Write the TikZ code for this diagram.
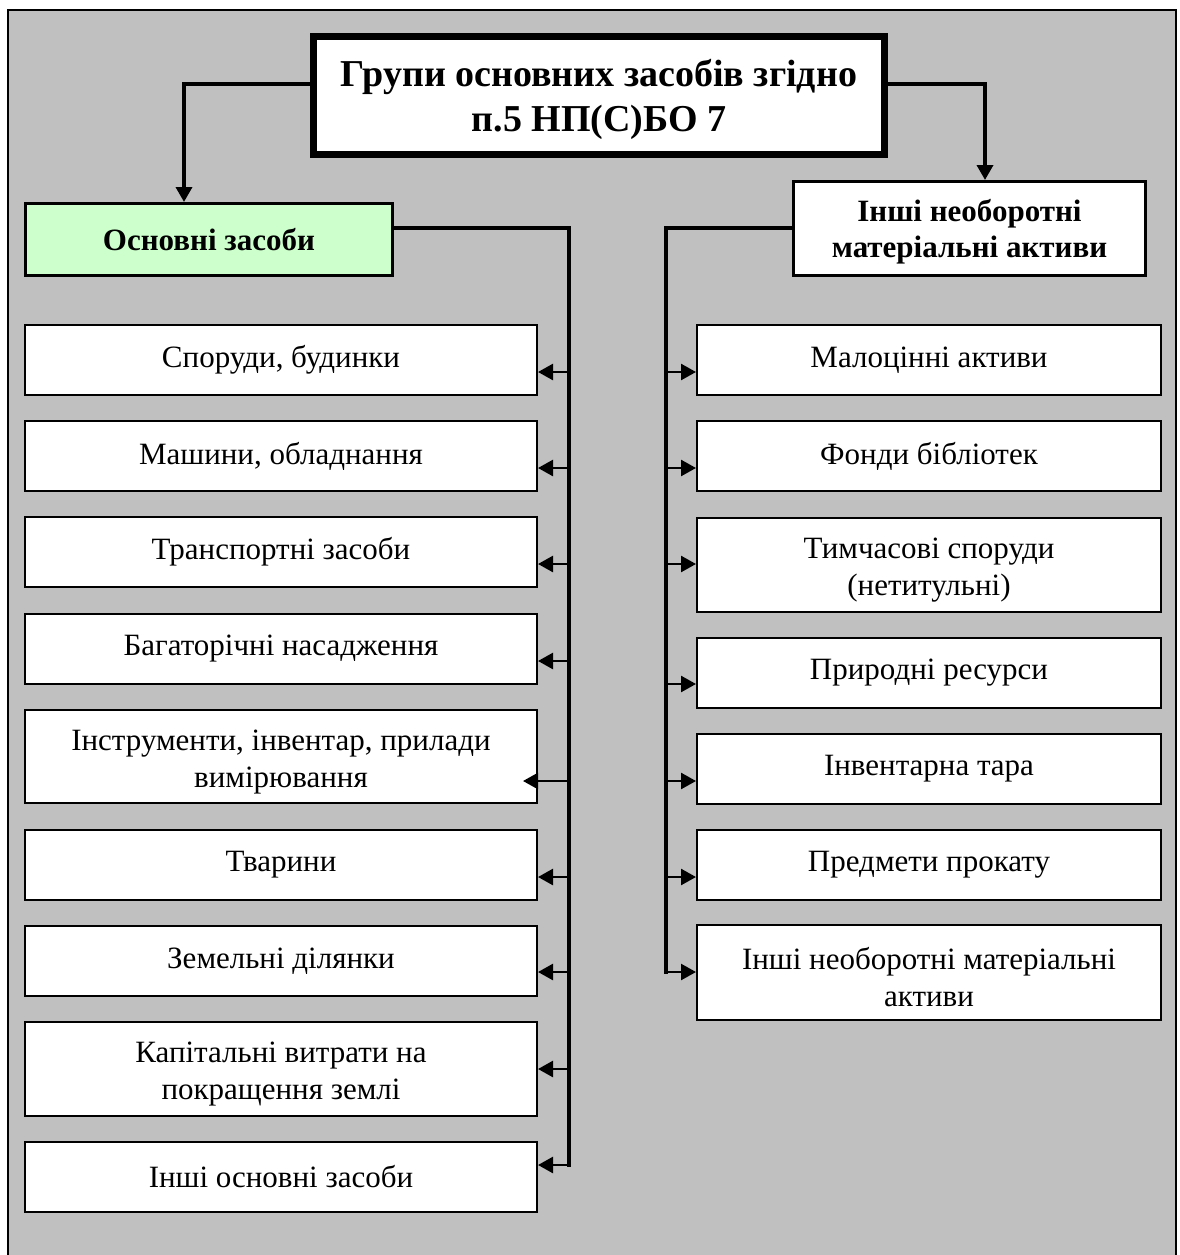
\documentclass[tikz,border=0pt]{standalone}
\usepackage{fontspec}
\setmainfont{Liberation Serif}
\usetikzlibrary{arrows.meta}
\definecolor{bg}{HTML}{C0C0C0}
\definecolor{lgreen}{HTML}{CCFFCC}
\newcommand\mystrut[1]{\rule{0pt}{#1}}
\begin{document}
\begin{tikzpicture}[x=1pt,y=-1pt,
  box/.style={draw,fill=white,line width=2pt,inner sep=0pt,align=center,font=\fontsize{31}{37}\selectfont},
  lbox/.style={box,minimum width=512pt,minimum height=70pt},
  rbox/.style={box,minimum width=464pt,minimum height=70pt},
  head/.style={draw,line width=3pt,inner sep=0pt,align=center,font=\bfseries\fontsize{31}{36}\selectfont},
  trunk/.style={line width=3.5pt,line cap=rect},
  tipA/.style={-{Triangle[length=15pt,width=16pt]}},
  stub/.style={line width=2.5pt,tipA},
  dn/.style={line width=3.5pt,tipA}]
\clip (0,0) rectangle (1179,1255);
\fill[white] (0,0) rectangle (1179,1255);
\draw[fill=bg,line width=2pt] (8,10) rectangle (1176,1280);

% title
\node[draw,fill=white,line width=7pt,minimum width=571pt,minimum height=118pt,inner sep=0pt,align=center,
  font=\bfseries\fontsize{38}{45}\selectfont] (title) at (599,95.5) {\mystrut{36pt}Групи основних засобів згідно\\п.5 НП(С)БО 7};

% headers
\node[head,fill=lgreen,minimum width=367pt,minimum height=72pt] (os) at (209,239.5) {Основні засоби};
\node[head,fill=white,minimum width=352pt,minimum height=94pt] (in) at (969.5,228.5) {\mystrut{28pt}Інші необоротні\\матеріальні активи};

% left boxes
\node[lbox] (l1) at (281,360) {Споруди, будинки};
\node[lbox] (l2) at (281,456) {Машини, обладнання};
\node[lbox] (l3) at (281,552) {Транспортні засоби};
\node[lbox] (l4) at (281,648.5) {Багаторічні насадження};
\node[lbox,minimum height=93pt] (l5) at (281,756.5) {\mystrut{31pt}Інструменти, інвентар, прилади\\вимірювання};
\node[lbox] (l6) at (281,864.5) {Тварини};
\node[lbox] (l7) at (281,961) {Земельні ділянки};
\node[lbox,minimum height=94pt] (l8) at (281,1069) {\mystrut{31pt}Капітальні витрати на\\покращення землі};
\node[lbox] (l9) at (281,1177) {Інші основні засоби};

% right boxes
\node[rbox] (r1) at (929,360) {Малоцінні активи};
\node[rbox] (r2) at (929,456) {Фонди бібліотек};
\node[rbox,minimum height=94pt] (r3) at (929,565) {\mystrut{31pt}Тимчасові споруди\\(нетитульні)};
\node[rbox] (r4) at (929,672.5) {Природні ресурси};
\node[rbox] (r5) at (929,768.5) {Інвентарна тара};
\node[rbox] (r6) at (929,864.5) {Предмети прокату};
\node[rbox,minimum height=95pt] (r7) at (929,972.5) {\mystrut{31pt}Інші необоротні матеріальні\\активи};

% connectors from title
\coordinate (ta) at (184,0);
\coordinate (tb) at (985,0);
\draw[dn] ([yshift=11.5pt]title.west) -| (ta |- os.north);
\draw[dn] ([yshift=11.5pt]title.east) -| (tb |- in.north);

% left trunk
\coordinate (lend) at (569,1165);
\draw[trunk] ([yshift=11.5pt]os.east) -| (lend);
\draw[stub] (569,372) -- (l1.east |- 0,372);
\draw[stub] (569,468) -- (l2.east |- 0,468);
\draw[stub] (569,564) -- (l3.east |- 0,564);
\draw[stub] (569,661) -- (l4.east |- 0,661);
\draw[stub] (569,781) -- ([xshift=-15pt]l5.east |- 0,781);
\draw[stub] (569,877) -- (l6.east |- 0,877);
\draw[stub] (569,972) -- (l7.east |- 0,972);
\draw[stub] (569,1069) -- (l8.east |- 0,1069);
\draw[stub] (lend) -- (l9.east |- lend);

% right trunk
\coordinate (rend) at (666,972);
\draw[trunk] ([yshift=0.5pt]in.west) -| (rend);
\draw[stub] (666,372) -- (r1.west |- 0,372);
\draw[stub] (666,468) -- (r2.west |- 0,468);
\draw[stub] (666,564) -- (r3.west |- 0,564);
\draw[stub] (666,684) -- (r4.west |- 0,684);
\draw[stub] (666,781) -- (r5.west |- 0,781);
\draw[stub] (666,877) -- (r6.west |- 0,877);
\draw[stub] (rend) -- (r7.west |- rend);
\end{tikzpicture}
\end{document}
